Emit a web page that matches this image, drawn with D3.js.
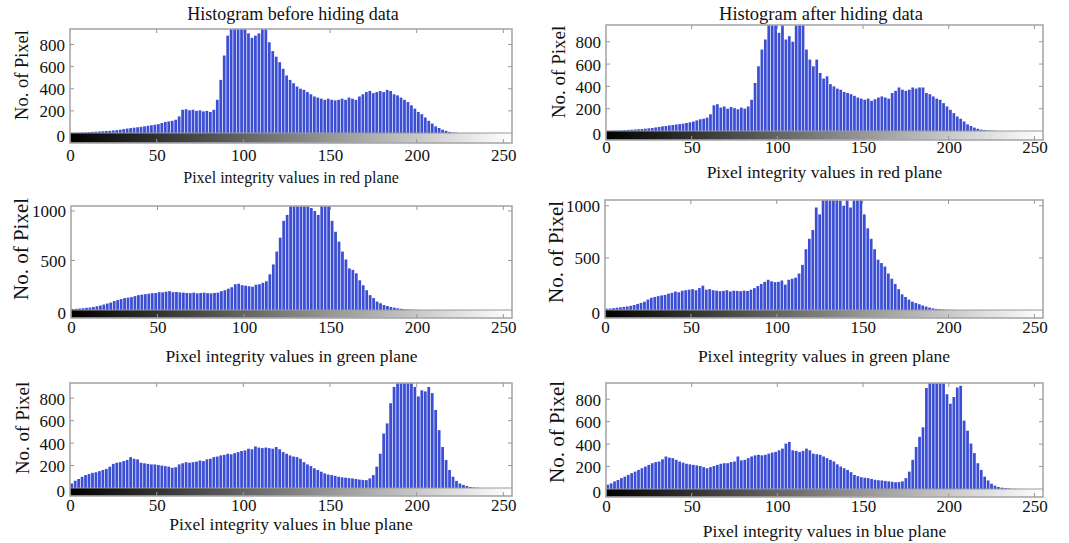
<!DOCTYPE html>
<html>
<head>
<meta charset="utf-8">
<script src="https://cdn.jsdelivr.net/npm/d3@7"></script>
<style>
  html, body { margin: 0; padding: 0; background: #fff; }
  svg { display: block; }
  text { font-family: "Liberation Serif", "DejaVu Serif", serif; fill: #111; }
</style>
</head>
<body>
<svg id="chart" width="1069" height="543"></svg>
<script>
// ---- Data (counts per pair of gray levels) ----
const binLevels = d3.range(0, 256, 2);
const xTicks = [0, 50, 100, 150, 200, 250];
const yTicksRB = [0, 200, 400, 600, 800];
const yTicksG = [0, 500, 1000];

const redBefore = [
  2,3,4,5,6,8,10,12,14,16,18,20,23,26,30,35,
  40,44,48,52,56,60,65,70,75,80,90,100,105,110,120,150,
  210,215,205,210,200,205,195,200,190,210,300,480,700,880,960,980,
  990,970,990,900,860,880,900,990,970,820,740,690,640,580,520,480,
  450,420,400,390,370,350,330,320,310,300,310,300,295,300,310,300,
  320,310,300,330,350,370,380,360,370,380,370,390,380,350,340,320,
  300,280,250,220,190,170,140,110,85,60,45,30,20,10,5,3,
  0,0,0,0,0,0,0,0,0,0,0,0,0,0,0,0
];
const redAfter = [
  2,3,4,5,6,8,10,12,14,16,18,21,24,27,32,36,
  42,45,50,54,58,62,66,72,78,85,95,105,110,120,150,230,
  240,210,220,200,215,205,195,210,200,220,280,430,580,730,820,960,
  980,950,880,990,820,850,800,990,970,980,730,640,580,640,520,470,
  490,420,400,380,370,350,340,330,315,300,290,280,290,270,285,300,
  310,300,290,340,360,390,370,360,370,390,380,390,390,340,330,310,
  290,280,250,220,190,160,130,110,85,60,45,30,20,12,8,5,
  3,2,0,0,0,0,0,0,0,0,0,0,0,0,0,0
];
const greenBefore = [
  10,12,15,18,22,25,30,38,45,55,65,75,90,100,110,120,
  125,130,140,150,155,160,165,170,172,180,178,185,190,180,182,178,
  175,172,170,175,168,172,175,170,168,172,175,190,200,215,230,260,
  265,250,245,240,235,255,260,275,290,360,460,590,730,900,960,1080,
  1090,1100,1080,1090,1070,1030,1000,960,1080,1090,1070,900,790,690,590,510,
  420,405,370,300,250,200,150,120,85,68,50,40,30,24,17,12,
  7,5,3,2,1,0,0,0,0,0,0,0,0,0,0,0,
  0,0,0,0,0,0,0,0,0,0,0,0,0,0,0,0
];
const greenAfter = [
  12,14,18,22,26,30,34,40,48,58,68,80,100,117,125,133,
  140,145,157,165,177,170,185,190,195,200,190,210,233,195,200,190,
  185,180,183,190,178,185,183,180,186,182,195,210,230,250,270,290,
  275,267,270,283,243,290,300,310,350,433,583,683,767,983,917,1080,
  1090,1080,1100,1070,1050,1000,1060,983,1080,1090,1070,917,783,683,583,483,
  450,417,350,300,250,200,150,125,100,80,67,55,43,33,23,16,
  10,7,5,3,2,1,0,0,0,0,0,0,0,0,0,0,
  0,0,0,0,0,0,0,0,0,0,0,0,0,0,0,0
];
const blueBefore = [
  40,65,80,100,115,125,135,140,150,160,170,190,215,225,230,240,
  250,275,260,255,225,220,215,210,210,205,200,195,190,180,185,210,
  220,230,225,230,235,245,240,255,260,275,280,290,295,305,300,310,
  320,330,335,350,345,370,360,355,360,355,350,365,345,320,305,290,
  280,275,260,230,210,195,175,160,145,130,120,115,108,100,95,92,
  88,85,80,75,72,70,85,115,190,305,485,575,755,900,990,990,
  990,980,990,900,815,870,860,900,845,695,515,365,250,160,100,63,
  40,27,18,9,5,3,0,0,0,0,0,0,0,0,0,0
];
const blueAfter = [
  38,50,68,80,97,110,126,141,155,170,185,200,215,230,240,245,
  265,290,280,275,260,245,235,225,220,215,210,205,195,185,195,205,
  215,225,230,230,240,245,290,255,260,275,290,300,305,300,305,315,
  325,330,345,360,405,420,345,340,330,340,360,345,315,310,305,290,
  275,260,245,220,200,185,170,150,125,115,105,100,97,90,82,78,
  76,72,68,64,60,62,68,97,155,260,375,465,550,900,990,990,
  990,990,990,845,760,820,905,920,610,520,405,320,230,170,110,76,
  47,30,18,12,8,6,3,2,0,0,0,0,0,0,0,0
];

const titles = ["Histogram before hiding data", "Histogram after hiding data"];
const xLabels = ["Pixel integrity values in red plane",
                 "Pixel integrity values in green plane",
                 "Pixel integrity values in blue plane"];
const yLabel = "No. of Pixel";

// ---- Layout ----
const panels = [
  {values: redBefore,   title: titles[0], xlabel: xLabels[0], yTicks: yTicksRB, ymax: 940,
   x0: 70,  x1: 512,  top: 29,  zero: 133, bottom: 143, tickY: 155, xlabY: 177, ylabX: 22,  ylabY: 75,
   titleX: 293, titleY: 14, titleSize: 18, xlabSize: 16, ylabSize: 18.5},
  {values: redAfter,    title: titles[1], xlabel: xLabels[0], yTicks: yTicksRB, ymax: 950,
   x0: 606, x1: 1043, top: 25,  zero: 131, bottom: 140, tickY: 147, xlabY: 172, ylabX: 558, ylabY: 72,
   titleX: 821, titleY: 14, titleSize: 18.5, xlabSize: 17.5, ylabSize: 19},
  {values: greenBefore, title: null,      xlabel: xLabels[1], yTicks: yTicksG,  ymax: 1050,
   x0: 71,  x1: 512,  top: 206, zero: 310, bottom: 318, tickY: 327, xlabY: 356, ylabX: 21,  ylabY: 249,
   xlabSize: 17.5, ylabSize: 21},
  {values: greenAfter,  title: null,      xlabel: xLabels[1], yTicks: yTicksG,  ymax: 1055,
   x0: 605, x1: 1043, top: 200, zero: 310, bottom: 318, tickY: 327, xlabY: 356, ylabX: 556, ylabY: 252,
   xlabSize: 17.5, ylabSize: 21},
  {values: blueBefore,  title: null,      xlabel: xLabels[2], yTicks: yTicksRB, ymax: 935,
   x0: 70,  x1: 512,  top: 383, zero: 488, bottom: 496, tickY: 505, xlabY: 524, ylabX: 22,  ylabY: 428,
   xlabSize: 17.5, ylabSize: 19},
  {values: blueAfter,   title: null,      xlabel: xLabels[2], yTicks: yTicksRB, ymax: 945,
   x0: 606, x1: 1043, top: 383, zero: 489, bottom: 497, tickY: 506, xlabY: 531, ylabX: 557, ylabY: 432,
   xlabSize: 17.5, ylabSize: 21}
];

const tickFont = "17px";
const svg = d3.select("#chart");
const defs = svg.append("defs");
const grad = defs.append("linearGradient").attr("id", "grayramp")
  .attr("x1", "0%").attr("x2", "100%").attr("y1", "0%").attr("y2", "0%");
grad.append("stop").attr("offset", "0%").attr("stop-color", "#000");
grad.append("stop").attr("offset", "100%").attr("stop-color", "#fff");

panels.forEach((p, i) => {
  const g = svg.append("g");
  const x = d3.scaleLinear().domain([0, 255]).range([p.x0, p.x1]);
  const y = d3.scaleLinear().domain([0, p.ymax]).range([p.zero, p.top]);

  const clipId = "clip" + i;
  defs.append("clipPath").attr("id", clipId)
    .append("rect").attr("x", p.x0).attr("y", p.top)
    .attr("width", p.x1 - p.x0).attr("height", p.zero - p.top);

  // gray ramp band below the zero line
  g.append("rect")
    .attr("x", p.x0).attr("y", p.zero)
    .attr("width", p.x1 - p.x0).attr("height", p.bottom - p.zero)
    .attr("fill", "url(#grayramp)");

  // bars
  const bw = x(2) - x(0);
  g.append("g").attr("clip-path", `url(#${clipId})`)
    .selectAll("rect").data(p.values).join("rect")
    .attr("x", (d, k) => x(binLevels[k]) + 0.3)
    .attr("width", Math.max(0.5, bw - 0.7))
    .attr("y", d => y(d))
    .attr("height", d => Math.max(0, p.zero - y(d)))
    .attr("fill", "#3b4ed4");

  // frame + zero line
  g.append("rect")
    .attr("x", p.x0).attr("y", p.top)
    .attr("width", p.x1 - p.x0).attr("height", p.bottom - p.top)
    .attr("fill", "none").attr("stroke", "#a8a8a8").attr("stroke-width", 1.6);
  g.append("line")
    .attr("x1", p.x0).attr("x2", p.x1).attr("y1", p.zero).attr("y2", p.zero)
    .attr("stroke", "#9a9a9a").attr("stroke-width", 1.2);

  // x axis (labels below, inward ticks on top and bottom)
  const xAxis = d3.axisBottom(x).tickValues(xTicks).tickSize(0).tickPadding(0).tickFormat(d3.format("d"));
  const gx = g.append("g").attr("transform", `translate(0,${p.tickY})`).call(xAxis);
  gx.select(".domain").remove();
  gx.selectAll("text").attr("dy", "0.35em").attr("y", 0)
    .style("font-family", "'Liberation Serif', serif").style("font-size", tickFont).attr("fill", "#111");
  xTicks.forEach(t => {
    if (t === 0) return;
    g.append("line").attr("x1", x(t)).attr("x2", x(t)).attr("y1", p.top).attr("y2", p.top + 4)
      .attr("stroke", "#999").attr("stroke-width", 1);
    g.append("line").attr("x1", x(t)).attr("x2", x(t)).attr("y1", p.bottom).attr("y2", p.bottom - 4)
      .attr("stroke", "#999").attr("stroke-width", 1);
  });

  // y axis (labels left, inward ticks left and right)
  const yAxis = d3.axisLeft(y).tickValues(p.yTicks).tickSize(0).tickPadding(0).tickFormat(d3.format("d"));
  const gy = g.append("g").attr("transform", `translate(${p.x0 - 5},0)`).call(yAxis);
  gy.select(".domain").remove();
  gy.selectAll("text")
    .style("font-family", "'Liberation Serif', serif").style("font-size", tickFont).attr("fill", "#111")
    .attr("dy", d => d === 0 ? "0.5em" : "0.35em");
  p.yTicks.forEach(t => {
    if (t === 0) return;
    g.append("line").attr("x1", p.x0).attr("x2", p.x0 + 4).attr("y1", y(t)).attr("y2", y(t))
      .attr("stroke", "#999").attr("stroke-width", 1);
    g.append("line").attr("x1", p.x1).attr("x2", p.x1 - 4).attr("y1", y(t)).attr("y2", y(t))
      .attr("stroke", "#999").attr("stroke-width", 1);
  });

  // labels
  g.append("text").attr("x", (p.x0 + p.x1) / 2).attr("y", p.xlabY)
    .attr("text-anchor", "middle").attr("dominant-baseline", "central")
    .style("font-size", p.xlabSize + "px").text(p.xlabel);
  g.append("text")
    .attr("transform", `translate(${p.ylabX},${p.ylabY}) rotate(-90)`)
    .attr("text-anchor", "middle").attr("dominant-baseline", "central")
    .style("font-size", p.ylabSize + "px").text(yLabel);
  if (p.title) {
    g.append("text").attr("x", p.titleX).attr("y", p.titleY)
      .attr("text-anchor", "middle").attr("dominant-baseline", "central")
      .style("font-size", p.titleSize + "px").text(p.title);
  }
});
</script>
</body>
</html>
